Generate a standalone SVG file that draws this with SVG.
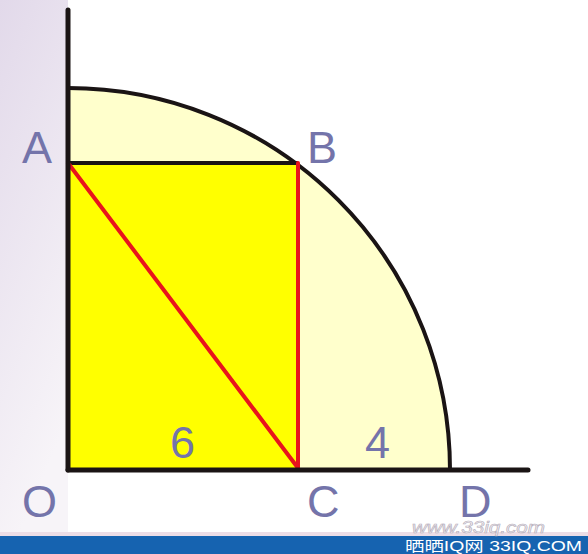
<svg xmlns="http://www.w3.org/2000/svg" width="588" height="554" viewBox="0 0 588 554">
<defs>
<linearGradient id="bg" x1="0" y1="0" x2="0.3" y2="1">
<stop offset="0" stop-color="#e2d9ea"/>
<stop offset="1" stop-color="#f7f4f8"/>
</linearGradient>
<style>
.lbl{font-family:"Liberation Sans",Arial,sans-serif;font-size:45px;fill:#7474aa}
.ax{stroke:#1a1414;stroke-width:5;fill:none;stroke-linecap:round}
.red{stroke:#e8141c;stroke-width:4;fill:none;stroke-linecap:round}
</style>
</defs>
<rect width="588" height="554" fill="#ffffff"/>
<rect x="0" y="0" width="68" height="532" fill="url(#bg)"/>
<rect x="0" y="532" width="588" height="4" fill="#ecdde6"/>
<rect x="0" y="536" width="588" height="18" fill="#1663b0"/>
<g id="quarter">
<path d="M68,470 L68,88 A382,382 0 0 1 450,470 Z" fill="#ffffcc"/>
<path d="M68,88 A382,382 0 0 1 450,470" stroke="#1a1414" stroke-width="4" fill="none"/>
</g>
<g id="rect">
<rect x="68" y="163" width="230" height="307" fill="#ffff00"/>
<line x1="68" y1="163" x2="298" y2="163" stroke="#1a1414" stroke-width="4"/>
</g>
<g id="connectors">
<line class="red" x1="298" y1="163" x2="298" y2="468"/>
<line class="red" x1="68" y1="163" x2="298" y2="468"/>
<line class="ax" x1="68" y1="10" x2="68" y2="470"/>
<line class="ax" x1="68" y1="470" x2="528" y2="470"/>
</g>
<g id="labels">
<text class="lbl" x="22" y="163">A</text>
<text class="lbl" x="307" y="163">B</text>
<text class="lbl" x="22" y="517">O</text>
<text class="lbl" x="307" y="517">C</text>
<text class="lbl" x="459" y="517">D</text>
<text class="lbl" x="170" y="458">6</text>
<text class="lbl" x="365" y="458">4</text>
</g>
<g id="watermark">
<text x="412" y="533" textLength="133" lengthAdjust="spacingAndGlyphs" font-family="'Liberation Sans',sans-serif" font-size="16" font-style="italic" fill="#f4f0f4" stroke="#b8b0bc" stroke-width="0.6">www.33iq.com</text>
<text x="405" y="551" textLength="177" lengthAdjust="spacingAndGlyphs" font-family="'Liberation Sans','Noto Sans CJK SC',sans-serif" font-size="14" fill="#ffffff">晒晒IQ网  33IQ.COM</text>
</g>
</svg>
